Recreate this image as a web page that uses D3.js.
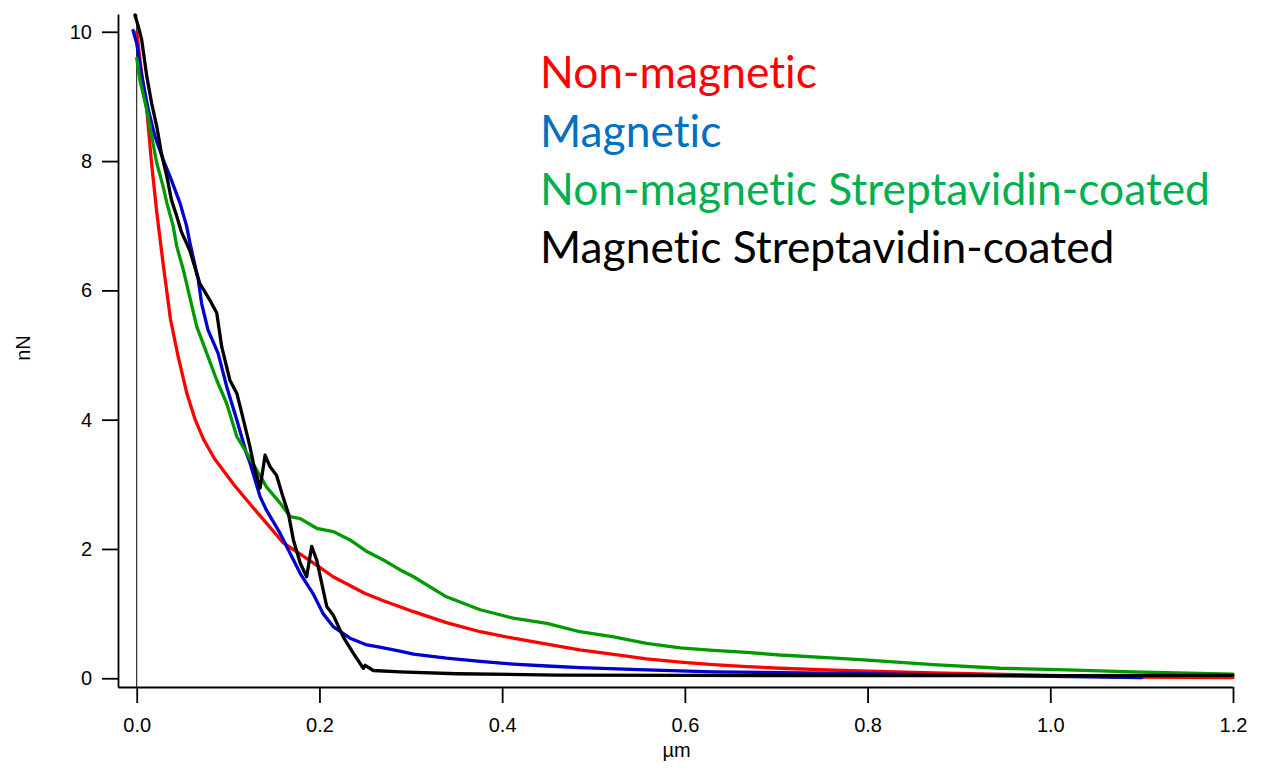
<!DOCTYPE html>
<html>
<head>
<meta charset="utf-8">
<script src="https://cdn.jsdelivr.net/npm/d3@7"></script>
<style>
  html, body { margin: 0; padding: 0; background: #fff; }
  svg { display: block; }
</style>
</head>
<body>
<svg id="chart" width="1265" height="772"></svg>
<script>
// ---- data ----
const seriesNames = ["Non-magnetic", "Magnetic", "Non-magnetic Streptavidin-coated", "Magnetic Streptavidin-coated"];
const lineColors = ["#ff0000", "#0000d0", "#009a00", "#000000"];
const legendColors = ["#ff0000", "#0070c0", "#00b050", "#000000"];
const xTicks = [0, 0.2, 0.4, 0.6, 0.8, 1.0, 1.2];
const yTicks = [0, 2, 4, 6, 8, 10];
const xLabel = "µm";
const yLabel = "nN";

const nonMagnetic = [
  [0, 10.0], [0.005, 9.4], [0.011, 8.8], [0.016, 8.0], [0.022, 7.2], [0.029, 6.4], [0.037, 5.55],
  [0.045, 5.0], [0.055, 4.4], [0.064, 4.0], [0.073, 3.7], [0.085, 3.4], [0.093, 3.25], [0.106, 3.0],
  [0.125, 2.68], [0.142, 2.40], [0.16, 2.1], [0.179, 1.92], [0.2, 1.72], [0.215, 1.57], [0.25, 1.31],
  [0.27, 1.20], [0.303, 1.03], [0.339, 0.86], [0.376, 0.72], [0.412, 0.62], [0.449, 0.53], [0.485, 0.44],
  [0.522, 0.37], [0.558, 0.30], [0.595, 0.25], [0.631, 0.21], [0.668, 0.18], [0.704, 0.155], [0.755, 0.13],
  [0.8, 0.11], [0.872, 0.085], [0.95, 0.06], [1.0, 0.045], [1.09, 0.02], [1.2, 0.01]
];
const magnetic = [
  [-0.004, 10.02], [0, 9.82], [0.0055, 9.31], [0.0127, 8.79], [0.02, 8.38], [0.029, 8.02], [0.0365, 7.76],
  [0.0474, 7.35], [0.0547, 6.99], [0.058, 6.75], [0.0674, 6.16], [0.071, 5.80], [0.078, 5.39], [0.089, 5.03],
  [0.0985, 4.51], [0.1095, 4.0], [0.12, 3.48], [0.124, 3.33], [0.135, 2.81], [0.142, 2.60], [0.157, 2.24],
  [0.168, 1.93], [0.179, 1.62], [0.193, 1.31], [0.204, 1.0], [0.215, 0.80], [0.2335, 0.62], [0.252, 0.515],
  [0.266, 0.48], [0.288, 0.42], [0.303, 0.375], [0.339, 0.31], [0.376, 0.26], [0.412, 0.22], [0.449, 0.19],
  [0.485, 0.165], [0.558, 0.13], [0.631, 0.10], [0.704, 0.087], [0.8, 0.07], [0.9, 0.05], [1.0, 0.03], [1.1, 0.01]
];
const nonMagneticStrep = [
  [0, 9.59], [0.0036, 9.25], [0.011, 8.79], [0.0164, 8.38], [0.0219, 7.97], [0.029, 7.60], [0.033, 7.35],
  [0.040, 6.99], [0.0438, 6.68], [0.051, 6.32], [0.058, 5.90], [0.0657, 5.44], [0.0766, 5.03], [0.0876, 4.61],
  [0.0985, 4.25], [0.1095, 3.74], [0.124, 3.40], [0.142, 2.96], [0.157, 2.71], [0.168, 2.50], [0.179, 2.47],
  [0.197, 2.32], [0.215, 2.27], [0.2335, 2.14], [0.252, 1.96], [0.27, 1.83], [0.288, 1.68], [0.303, 1.57],
  [0.339, 1.26], [0.376, 1.06], [0.412, 0.93], [0.449, 0.85], [0.485, 0.72], [0.522, 0.64], [0.558, 0.54],
  [0.595, 0.47], [0.631, 0.43], [0.668, 0.40], [0.704, 0.36], [0.755, 0.32], [0.80, 0.28], [0.872, 0.21],
  [0.945, 0.155], [1.018, 0.13], [1.09, 0.10], [1.2, 0.065]
];
const magneticStrep = [
  [-0.002, 10.26], [0.0018, 10.08], [0.0055, 9.87], [0.011, 9.31], [0.0164, 8.89], [0.022, 8.53], [0.027, 8.12],
  [0.033, 7.76], [0.038, 7.40], [0.044, 7.14], [0.049, 6.90], [0.058, 6.62], [0.069, 6.11], [0.080, 5.85],
  [0.0876, 5.65], [0.093, 5.13], [0.102, 4.61], [0.1095, 4.41], [0.115, 4.10], [0.124, 3.58], [0.128, 3.30],
  [0.135, 2.94], [0.1405, 3.45], [0.146, 3.27], [0.153, 3.14], [0.160, 2.81], [0.166, 2.55], [0.1715, 2.14],
  [0.179, 1.78], [0.186, 1.57], [0.1915, 2.04], [0.197, 1.83], [0.208, 1.11], [0.215, 0.98], [0.226, 0.64],
  [0.237, 0.39], [0.248, 0.155], [0.25, 0.2], [0.259, 0.12], [0.288, 0.10], [0.35, 0.07], [0.46, 0.05],
  [0.6, 0.045], [0.8, 0.04], [1.0, 0.04], [1.2, 0.045]
];
const allSeries = [nonMagnetic, magnetic, nonMagneticStrep, magneticStrep];

// ---- layout ----
const plot = { left: 118, right: 1233, top: 14, bottom: 687 };
const xDomain = [-0.0205, 1.2];
const yDomain = [-0.135, 10.275];

const svg = d3.select("#chart");
const x = d3.scaleLinear().domain(xDomain).range([plot.left, plot.right]);
const y = d3.scaleLinear().domain(yDomain).range([plot.bottom, plot.top]);

const axisFont = "'Liberation Sans', Arial, sans-serif";

// zero line
svg.append("line")
  .attr("x1", x(0)).attr("x2", x(0))
  .attr("y1", plot.top).attr("y2", plot.bottom)
  .attr("stroke", "#000").attr("stroke-width", 1);

// curves
const line = d3.line().x(d => x(d[0])).y(d => y(d[1]));
allSeries.forEach((s, i) => {
  svg.append("path")
    .datum(s)
    .attr("d", line)
    .attr("fill", "none")
    .attr("stroke", lineColors[i])
    .attr("stroke-width", 3.3)
    .attr("stroke-linejoin", "round")
    .attr("stroke-linecap", "round");
});

// axes
const xAxis = d3.axisBottom(x).tickValues(xTicks).tickFormat(d3.format(".1f"))
  .tickSizeInner(16).tickSizeOuter(0).tickPadding(15);
const yAxis = d3.axisLeft(y).tickValues(yTicks).tickFormat(d3.format("d"))
  .tickSizeInner(16).tickSizeOuter(0).tickPadding(10);

const gx = svg.append("g").attr("transform", `translate(0,${plot.bottom})`).call(xAxis);
const gy = svg.append("g").attr("transform", `translate(${plot.left},0)`).call(yAxis);
[gx, gy].forEach(g => {
  g.select(".domain").attr("stroke", "#000").attr("stroke-width", 1.8);
  g.selectAll(".tick line").attr("stroke", "#000").attr("stroke-width", 1.8);
  g.selectAll(".tick text").attr("fill", "#000")
    .style("font-family", axisFont).style("font-size", "20px");
});

// axis labels
svg.append("text")
  .attr("x", (plot.left + plot.right) / 2 + 1).attr("y", 757)
  .attr("text-anchor", "middle")
  .style("font-family", axisFont).style("font-size", "20px")
  .text(xLabel);
svg.append("text")
  .attr("transform", `translate(30,348) rotate(-90)`)
  .attr("text-anchor", "middle")
  .style("font-family", axisFont).style("font-size", "20px")
  .text(yLabel);

// legend
const legendFont = "Lato, 'Open Sans', sans-serif";
const legendBaselines = [88, 147, 205, 263];
const legendTexts = seriesNames.map((name, i) =>
  svg.append("text")
    .attr("x", 540).attr("y", legendBaselines[i])
    .attr("fill", legendColors[i])
    .style("font-family", legendFont).style("font-size", "37px")
    .style("font-variant-ligatures", "none")
    .text(name)
);
// fit font size so the longest entry spans the same width as in the reference
const measured = legendTexts[2].node().getComputedTextLength();
const fs = 37 * 670 / measured;
legendTexts.forEach(t => t.style("font-size", fs + "px"));
</script>
</body>
</html>
